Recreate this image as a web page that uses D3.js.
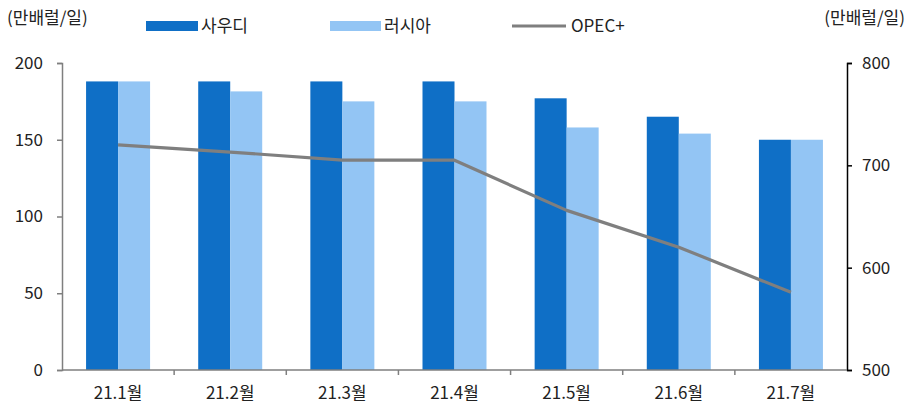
<!DOCTYPE html>
<html>
<head>
<meta charset="utf-8">
<script src="https://cdn.jsdelivr.net/npm/d3@7/dist/d3.min.js"></script>
<style>
  html, body { margin: 0; padding: 0; background: #fff; }
  svg { display: block; }
  text { font-family: "Noto Sans CJK KR", "Noto Sans", sans-serif; fill: #222; }
</style>
</head>
<body>
<svg id="chart" width="910" height="407"></svg>
<script>
// Monthly crude output (만배럴/일)
const months = ["21.1월", "21.2월", "21.3월", "21.4월", "21.5월", "21.6월", "21.7월"];
const saudi = [188, 188, 188, 188, 177, 165, 150];
const russia = [188, 181.5, 175, 175, 158, 154, 150];
const opecPlus = [720, 713, 705, 705, 656, 620, 576];
const leftTicks = [0, 50, 100, 150, 200];
const rightTicks = [500, 600, 700, 800];
const seriesNames = ["사우디", "러시아", "OPEC+"];
const unitLabel = "(만배럴/일)";

const colors = { saudi: "#0F6FC6", russia: "#93C5F4", line: "#7F7F7F" };
const fontSize = "17px";

const svg = d3.select("#chart");
const plot = { left: 62, right: 847, top: 63, bottom: 370 };

const x = d3.scaleBand().domain(months).range([plot.left, plot.right]).paddingInner(0).paddingOuter(0);
const sub = d3.scaleBand().domain(["saudi", "russia"]).range([0, 64]);
const yL = d3.scaleLinear().domain([0, 200]).range([plot.bottom, plot.top]);
const yR = d3.scaleLinear().domain([500, 800]).range([plot.bottom, plot.top]);

const barOffset = (x.bandwidth() - 64) / 2;

// Bars
const groups = svg.append("g").selectAll("g")
  .data(months)
  .join("g")
  .attr("transform", d => `translate(${x(d) + barOffset},0)`);

groups.append("rect")
  .attr("x", sub("saudi"))
  .attr("y", (d, i) => yL(saudi[i]))
  .attr("width", sub.bandwidth())
  .attr("height", (d, i) => yL(0) - yL(saudi[i]))
  .attr("fill", colors.saudi);

groups.append("rect")
  .attr("x", sub("russia"))
  .attr("y", (d, i) => yL(russia[i]))
  .attr("width", sub.bandwidth())
  .attr("height", (d, i) => yL(0) - yL(russia[i]))
  .attr("fill", colors.russia);

// OPEC+ line on the right axis
const line = d3.line()
  .x((d, i) => x(months[i]) + x.bandwidth() / 2)
  .y(d => yR(d));

svg.append("path")
  .datum(opecPlus)
  .attr("d", line)
  .attr("fill", "none")
  .attr("stroke", colors.line)
  .attr("stroke-width", 3.2)
  .attr("stroke-linejoin", "round");

// Axes
const leftAxis = d3.axisLeft(yL).tickValues(leftTicks).tickSize(5).tickPadding(14);
const rightAxis = d3.axisRight(yR).tickValues(rightTicks).tickSize(5).tickPadding(10);

const gL = svg.append("g").attr("transform", `translate(${plot.left},0)`).call(leftAxis);
gL.select(".domain").attr("stroke", "#7F7F7F").attr("stroke-width", 1.5);
gL.selectAll(".tick line").attr("stroke", "#7F7F7F").attr("stroke-width", 1.5);
gL.selectAll(".tick text").style("font-size", fontSize).style("font-family", "'Noto Sans CJK KR', sans-serif").attr("fill", "#222");

const gR = svg.append("g").attr("transform", `translate(${plot.right},0)`).call(rightAxis);
gR.select(".domain").attr("stroke", "#000").attr("stroke-width", 1.5);
gR.selectAll(".tick line").attr("stroke", "#000").attr("stroke-width", 1.5);
gR.selectAll(".tick text").style("font-size", fontSize).style("font-family", "'Noto Sans CJK KR', sans-serif").attr("fill", "#222");

// Category axis with ticks at band boundaries
const gB = svg.append("g").attr("transform", `translate(0,${plot.bottom})`);
gB.append("line")
  .attr("x1", plot.left).attr("x2", plot.right)
  .attr("stroke", "#7F7F7F").attr("stroke-width", 1.5);
gB.selectAll("line.tk")
  .data(months.slice(1))
  .join("line")
  .attr("class", "tk")
  .attr("x1", d => x(d)).attr("x2", d => x(d))
  .attr("y1", 0).attr("y2", 5)
  .attr("stroke", "#7F7F7F").attr("stroke-width", 1.5);
gB.selectAll("text")
  .data(months)
  .join("text")
  .attr("x", d => x(d) + x.bandwidth() / 2)
  .attr("y", 29)
  .attr("text-anchor", "middle")
  .style("font-size", fontSize)
  .text(d => d);

// Unit labels
svg.append("text").attr("x", 7).attr("y", 24).style("font-size", fontSize).text(unitLabel);
svg.append("text").attr("x", 905).attr("y", 24).attr("text-anchor", "end").style("font-size", fontSize).text(unitLabel);

// Legend
const legend = svg.append("g");
legend.append("rect").attr("x", 146).attr("y", 21).attr("width", 52).attr("height", 10).attr("fill", colors.saudi);
legend.append("text").attr("x", 201).attr("y", 32).style("font-size", fontSize).text(seriesNames[0]);
legend.append("rect").attr("x", 330).attr("y", 21).attr("width", 51).attr("height", 10).attr("fill", colors.russia);
legend.append("text").attr("x", 384).attr("y", 32).style("font-size", fontSize).text(seriesNames[1]);
legend.append("line").attr("x1", 512).attr("x2", 566).attr("y1", 26).attr("y2", 26)
  .attr("stroke", colors.line).attr("stroke-width", 3.2);
legend.append("text").attr("x", 571).attr("y", 32).style("font-size", fontSize).text(seriesNames[2]);
</script>
</body>
</html>
